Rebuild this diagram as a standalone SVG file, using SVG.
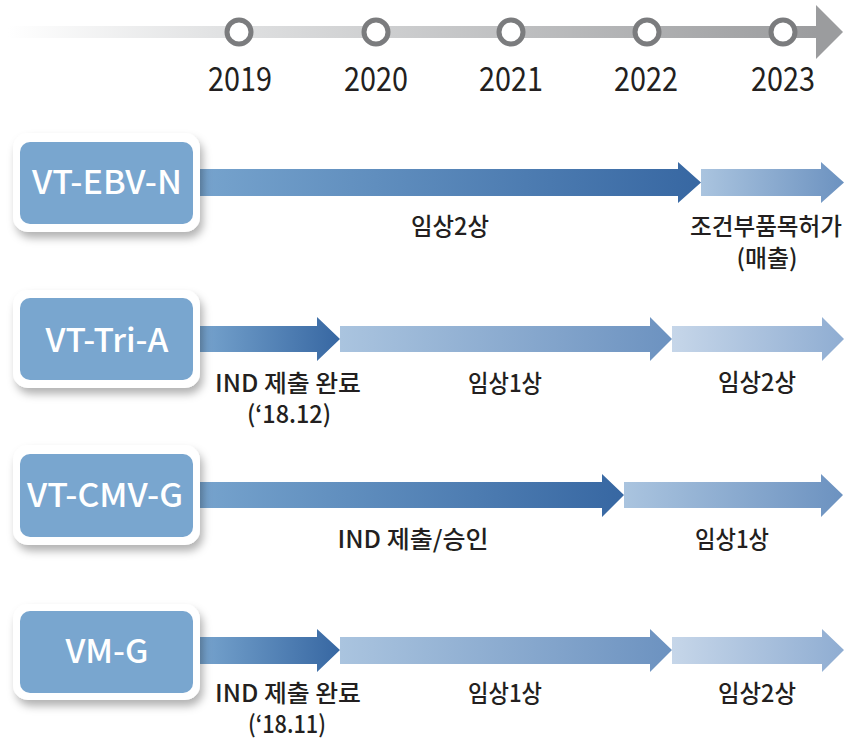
<svg xmlns="http://www.w3.org/2000/svg" width="847" height="739" viewBox="0 0 847 739">
<defs>
<linearGradient id="tl" x1="0" y1="0" x2="1" y2="0">
<stop offset="0" stop-color="#ffffff"/>
<stop offset="0.25" stop-color="#e2e3e4"/>
<stop offset="1" stop-color="#9b9c9e"/>
</linearGradient>
<linearGradient id="gDark" x1="0" y1="0" x2="1" y2="0">
<stop offset="0" stop-color="#76a3cd"/>
<stop offset="1" stop-color="#3767a2"/>
</linearGradient>
<linearGradient id="gMid" x1="0" y1="0" x2="1" y2="0">
<stop offset="0" stop-color="#aac4df"/>
<stop offset="1" stop-color="#6c92c0"/>
</linearGradient>
<linearGradient id="gLight" x1="0" y1="0" x2="1" y2="0">
<stop offset="0" stop-color="#c6d6e9"/>
<stop offset="1" stop-color="#8fadd2"/>
</linearGradient>
<filter id="sh" x="-10%" y="-10%" width="130%" height="140%">
<feDropShadow dx="3" dy="6" stdDeviation="4" flood-color="#000" flood-opacity="0.3"/>
</filter>
</defs>
<style>
.yr{font-family:"Noto Sans CJK KR","Noto Sans",sans-serif;font-size:33px;fill:#231f20;text-anchor:middle}
.nd{font-family:"Noto Sans CJK KR","Noto Sans",sans-serif;font-size:32px;fill:#fff;text-anchor:middle;font-weight:500}
.lb{font-family:"Noto Sans CJK KR","Noto Sans",sans-serif;font-size:24px;fill:#231f20;text-anchor:middle;font-weight:500}
.outer{fill:#fff;filter:url(#sh)}
.inner{fill:#79a6cf}
.ring{fill:#fff;stroke:#7b7c7e;stroke-width:5}
</style>

<g id="timeline">
<rect x="8" y="26" width="810" height="12" fill="url(#tl)"/>
<polygon points="816,5 843,32 816,59" fill="#9b9c9e"/>
<circle class="ring" cx="239" cy="32" r="12"/>
<circle class="ring" cx="376" cy="32" r="12"/>
<circle class="ring" cx="511" cy="32" r="12"/>
<circle class="ring" cx="647" cy="32" r="12"/>
<circle class="ring" cx="783" cy="32" r="12"/>
<text class="yr" x="240" y="91" textLength="64" lengthAdjust="spacingAndGlyphs">2019</text>
<text class="yr" x="376" y="91" textLength="64" lengthAdjust="spacingAndGlyphs">2020</text>
<text class="yr" x="511" y="91" textLength="64" lengthAdjust="spacingAndGlyphs">2021</text>
<text class="yr" x="646" y="91" textLength="64" lengthAdjust="spacingAndGlyphs">2022</text>
<text class="yr" x="783" y="91" textLength="64" lengthAdjust="spacingAndGlyphs">2023</text>
</g>

<g id="connectors">
<polygon points="200,169 678,169 678,162 701,182.5 678,203 678,196 200,196" fill="url(#gDark)"/>
<polygon points="701,169 821,169 821,162 844,182.5 821,203 821,196 701,196" fill="url(#gMid)"/>

<polygon points="200,326 317,326 317,317 340,339 317,361 317,352 200,352" fill="url(#gDark)"/>
<polygon points="340,326 650,326 650,317 672,339 650,361 650,352 340,352" fill="url(#gMid)"/>
<polygon points="672,326 822,326 822,317 844,339 822,361 822,352 672,352" fill="url(#gLight)"/>

<polygon points="200,482 602,482 602,474 624,495 602,517 602,508 200,508" fill="url(#gDark)"/>
<polygon points="624,482 821,482 821,474 843,495 821,517 821,508 624,508" fill="url(#gMid)"/>

<polygon points="200,637 317,637 317,629 340,650 317,672 317,664 200,664" fill="url(#gDark)"/>
<polygon points="340,637 650,637 650,629 672,650 650,672 650,664 340,664" fill="url(#gMid)"/>
<polygon points="672,637 822,637 822,629 844,650 822,672 822,664 672,664" fill="url(#gLight)"/>
</g>

<g id="labels">
<text class="lb" x="450" y="235" textLength="78" lengthAdjust="spacingAndGlyphs">임상2상</text>
<text class="lb" x="766" y="235" textLength="152" lengthAdjust="spacingAndGlyphs">조건부품목허가</text>
<text class="lb" x="767" y="267" textLength="61" lengthAdjust="spacingAndGlyphs">(매출)</text>

<text class="lb" x="288" y="392" textLength="146" lengthAdjust="spacingAndGlyphs">IND 제출 완료</text>
<text class="lb" x="289" y="423" textLength="84" lengthAdjust="spacingAndGlyphs">(‘18.12)</text>
<text class="lb" x="505" y="392" textLength="74" lengthAdjust="spacingAndGlyphs">임상1상</text>
<text class="lb" x="757" y="391" textLength="78" lengthAdjust="spacingAndGlyphs">임상2상</text>

<text class="lb" x="413" y="548" textLength="151" lengthAdjust="spacingAndGlyphs">IND 제출/승인</text>
<text class="lb" x="732" y="548" textLength="74" lengthAdjust="spacingAndGlyphs">임상1상</text>

<text class="lb" x="288" y="702" textLength="146" lengthAdjust="spacingAndGlyphs">IND 제출 완료</text>
<text class="lb" x="287" y="733" textLength="78" lengthAdjust="spacingAndGlyphs">(‘18.11)</text>
<text class="lb" x="505" y="702" textLength="74" lengthAdjust="spacingAndGlyphs">임상1상</text>
<text class="lb" x="757" y="702" textLength="78" lengthAdjust="spacingAndGlyphs">임상2상</text>
</g>

<g id="node-vt-ebv-n">
<rect class="outer" x="13" y="133" width="187" height="99" rx="15"/>
<rect class="inner" x="20" y="142" width="173" height="82" rx="10"/>
<text class="nd" x="107" y="194" textLength="150" lengthAdjust="spacingAndGlyphs">VT-EBV-N</text>
</g>
<g id="node-vt-tri-a">
<rect class="outer" x="13" y="290" width="187" height="98" rx="15"/>
<rect class="inner" x="20" y="298" width="173" height="82" rx="10"/>
<text class="nd" x="107" y="352" textLength="123" lengthAdjust="spacingAndGlyphs">VT-Tri-A</text>
</g>
<g id="node-vt-cmv-g">
<rect class="outer" x="13" y="445" width="187" height="100" rx="15"/>
<rect class="inner" x="20" y="454" width="173" height="83" rx="10"/>
<text class="nd" x="105" y="507" textLength="156" lengthAdjust="spacingAndGlyphs">VT-CMV-G</text>
</g>
<g id="node-vm-g">
<rect class="outer" x="13" y="604" width="187" height="96" rx="15"/>
<rect class="inner" x="20" y="611" width="173" height="82" rx="10"/>
<text class="nd" x="107" y="663" textLength="83" lengthAdjust="spacingAndGlyphs">VM-G</text>
</g>
</svg>
